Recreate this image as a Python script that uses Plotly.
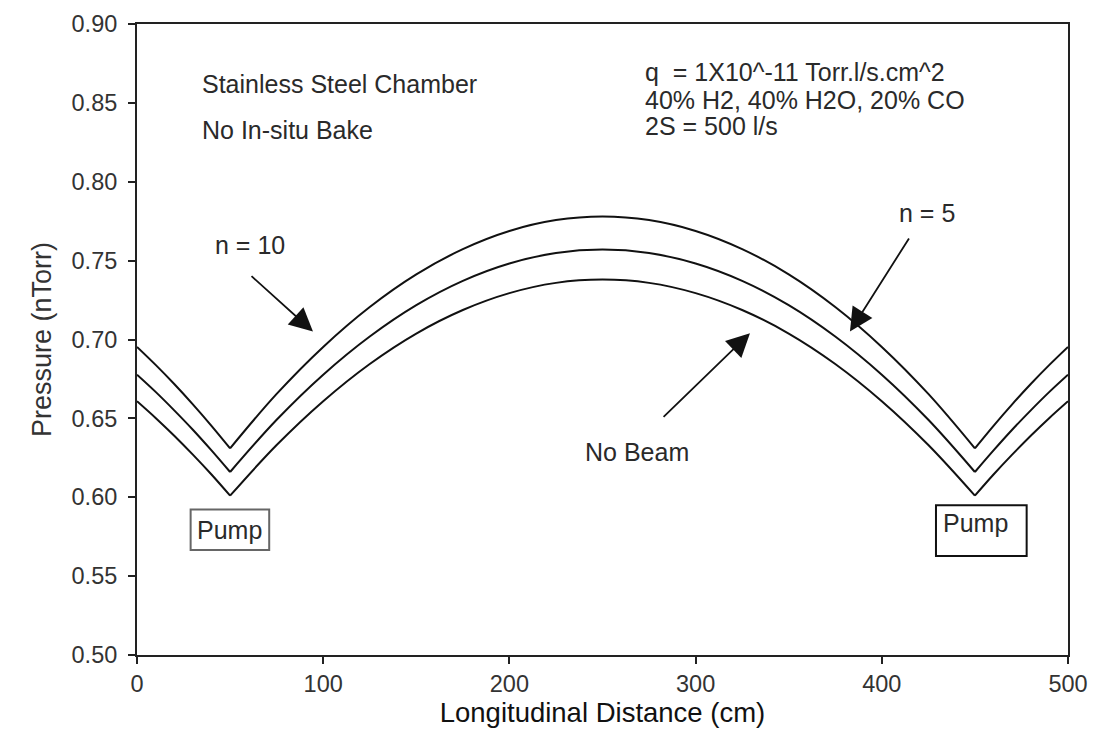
import plotly.graph_objects as go

# Longitudinal distance (cm)
x_cm = [0, 10, 20, 30, 40, 50, 75, 100, 125, 150, 175, 200, 225, 250,
        275, 300, 325, 350, 375, 400, 425, 450, 460, 470, 480, 490, 500]

# Pressure (nTorr)
p_n10 = [0.6953, 0.6839, 0.6718, 0.6589, 0.6453, 0.6310, 0.6655, 0.6953, 0.7206, 0.7413, 0.7573, 0.7688, 0.7757, 0.7780,
         0.7757, 0.7688, 0.7573, 0.7413, 0.7206, 0.6953, 0.6655, 0.6310, 0.6453, 0.6589, 0.6718, 0.6839, 0.6953]
p_n5 = [0.6777, 0.6668, 0.6551, 0.6428, 0.6297, 0.6160, 0.6491, 0.6777, 0.7019, 0.7218, 0.7372, 0.7482, 0.7548, 0.7570,
        0.7548, 0.7482, 0.7372, 0.7218, 0.7019, 0.6777, 0.6491, 0.6160, 0.6297, 0.6428, 0.6551, 0.6668, 0.6777]
p_nobeam = [0.6609, 0.6503, 0.6390, 0.6270, 0.6144, 0.6010, 0.6331, 0.6609, 0.6845, 0.7038, 0.7187, 0.7294, 0.7359, 0.7380,
            0.7359, 0.7294, 0.7187, 0.7038, 0.6845, 0.6609, 0.6331, 0.6010, 0.6144, 0.6270, 0.6390, 0.6503, 0.6609]

x_ticks = [0, 100, 200, 300, 400, 500]
y_ticks = [0.50, 0.55, 0.60, 0.65, 0.70, 0.75, 0.80, 0.85, 0.90]

FONT = "Liberation Sans, Arial, sans-serif"
TXT = "#2a2a2a"

# pump positions split each curve into arms (indices in x_cm)
i_p1 = x_cm.index(50)
i_p2 = x_cm.index(450)

fig = go.Figure()
for ys in (p_n10, p_n5, p_nobeam):
    for a, b in ((0, i_p1 + 1), (i_p1, i_p2 + 1), (i_p2, len(x_cm))):
        fig.add_trace(go.Scatter(x=x_cm[a:b], y=ys[a:b], mode="lines",
                                 line=dict(color="#111111", width=2, shape="spline", smoothing=1.0),
                                 showlegend=False, hoverinfo="skip"))

def text(x, y, s, xanchor="left", size=25):
    fig.add_annotation(x=x, y=y, xref="x", yref="y", text=s, showarrow=False,
                       xanchor=xanchor, yanchor="middle",
                       font=dict(family=FONT, size=size, color=TXT))

text(34, 0.862, "Stainless Steel Chamber")
text(34, 0.833, "No In-situ Bake")
text(272, 0.8696, "q  = 1X10^-11 Torr.l/s.cm^2")
text(272, 0.8518, "40% H2, 40% H2O, 20% CO")
text(272, 0.8353, "2S = 500 l/s")
text(60.7, 0.760, "n = 10", xanchor="center")
text(424.3, 0.780, "n = 5", xanchor="center")
text(268.5, 0.6287, "No Beam", xanchor="center")
text(49.5, 0.5790, "Pump", xanchor="center")
text(432, 0.5837, "Pump", xanchor="left")

def arrow(x0, y0, x1, y1):
    fig.add_annotation(x=x1, y=y1, ax=x0, ay=y0, xref="x", yref="y",
                       axref="x", ayref="y", text="", showarrow=True,
                       arrowhead=2, arrowsize=2.6, arrowwidth=1.8,
                       arrowcolor="#111111", standoff=0)

arrow(60.7, 0.741, 94.5, 0.705)
arrow(415.1, 0.765, 382.9, 0.705)
arrow(282.0, 0.650, 329.2, 0.704)

# Pump boxes
fig.add_shape(type="rect", xref="x", yref="y", x0=28.8, x1=71.0, y0=0.5666, y1=0.5922,
              line=dict(color="#666666", width=2))
fig.add_shape(type="rect", xref="x", yref="y", x0=429.1, x1=477.8, y0=0.5627, y1=0.5950,
              line=dict(color="#111111", width=2))

axis_common = dict(showline=True, linecolor="#222222", linewidth=2, mirror=True,
                   ticks="outside", ticklen=7, tickwidth=2, tickcolor="#222222",
                   showgrid=False, zeroline=False, automargin=False,
                   tickfont=dict(family=FONT, size=23.5, color="#333333"))

fig.update_xaxes(range=[0, 500], tickvals=x_ticks, ticktext=[str(v) for v in x_ticks],
                 title=dict(text="Longitudinal Distance (cm)", standoff=6,
                            font=dict(family=FONT, size=27.5, color="#111111")),
                 **axis_common)
fig.update_yaxes(range=[0.50, 0.90], tickvals=y_ticks, ticktext=[f"{v:.2f}" for v in y_ticks],
                 ticklabelstandoff=6,
                 title=dict(text="Pressure (nTorr)", standoff=12,
                            font=dict(family=FONT, size=27, color="#333333")),
                 **axis_common)

# page body adds an 8 px offset, so the figure is sized to fit the window
fig.update_layout(width=1102, height=722, plot_bgcolor="white", paper_bgcolor="white",
                  margin=dict(l=129, r=42, t=16, b=75))

fig.write_html("out.html")
